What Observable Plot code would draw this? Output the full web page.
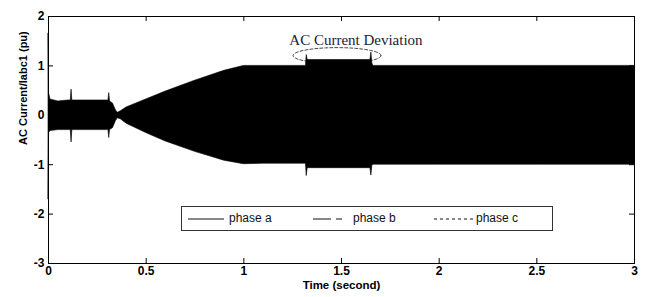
<!DOCTYPE html>
<html><head><meta charset="utf-8">
<script src="https://cdn.jsdelivr.net/npm/d3@7"></script>
<script src="https://cdn.jsdelivr.net/npm/@observablehq/plot@0.6"></script>
<style>
body{margin:0;background:#fff;}
#wrap{position:relative;width:645px;height:297px;overflow:hidden;}
#legend{position:absolute;left:181px;top:206px;width:372px;height:25px;border:1px solid #333;background:#fff;box-sizing:border-box;font-family:"Liberation Sans",Arial,sans-serif;font-size:12px;color:#111;}
#legend span{position:absolute;top:4px;line-height:15px;}
#legend svg{position:absolute;left:0;top:0;}
</style></head><body><div id="wrap"></div>
<script>
// Envelope of the three-phase current waveform (pu)
const time  = [0, 0.003, 0.01, 0.05, 0.1, 0.114, 0.118, 0.122, 0.2, 0.3, 0.307, 0.311, 0.315, 0.33, 0.345, 0.355, 0.37, 0.4, 0.5, 0.6, 0.75, 0.9, 1.0, 1.1, 1.2, 1.3, 1.318, 1.322, 1.327, 1.5, 1.648, 1.653, 1.658, 1.663, 2.0, 2.5, 3.0];
const upper = [1.65, 0.45, 0.32, 0.28, 0.3, 0.3, 0.52, 0.3, 0.3, 0.3, 0.3, 0.45, 0.28, 0.24, 0.1, 0.05, 0.08, 0.16, 0.32, 0.48, 0.7, 0.9, 1.0, 1.0, 1.0, 1.0, 1.0, 1.22, 1.12, 1.12, 1.12, 1.27, 1.05, 1.0, 1.0, 1.0, 1.0];
const lower = [-1.7, -0.36, -0.32, -0.3, -0.3, -0.3, -0.55, -0.3, -0.3, -0.3, -0.3, -0.46, -0.3, -0.26, -0.12, -0.06, -0.08, -0.17, -0.36, -0.53, -0.74, -0.92, -0.99, -0.98, -0.98, -0.98, -0.98, -1.23, -1.07, -1.07, -1.07, -1.22, -1.02, -1.0, -1.0, -1.0, -1.0];
const xTicks = [0, 0.5, 1, 1.5, 2, 2.5, 3];
const yTicks = [-3, -2, -1, 0, 1, 2];
const phaseNames = ["phase a", "phase b", "phase c"];
const xLabel = "Time (second)";
const yLabel = "AC Current/Iabc1 (pu)";
const yLabelAt = -0.6;
const noteText = "AC Current Deviation";
const noteCenter = [1.477, 1.21];   // ellipse centre (s, pu)
const noteRadii = [0.225, 0.16];    // ellipse radii (s, pu)
const noteLabel = [1.574, 1.52];

const env = time.map((t, i) => ({t, hi: upper[i], lo: lower[i]}));
const ellipse = d3.range(0, 73).map(k => {
  const a = k / 72 * 2 * Math.PI;
  return {t: noteCenter[0] + noteRadii[0] * Math.cos(a), v: noteCenter[1] + noteRadii[1] * Math.sin(a)};
});

const W = 645, H = 297, mL = 48, mT = 16, mR = 11, mB = 34;
const fw = W - mL - mR, fh = H - mT - mB, tl = 5;
const bold = {fontWeight: "bold", fontSize: 12, fontFamily: "'Liberation Sans', Arial, sans-serif"};

const chart = Plot.plot({
  width: W, height: H,
  marginLeft: mL, marginTop: mT, marginRight: mR, marginBottom: mB,
  style: {fontFamily: "'Liberation Sans', Arial, sans-serif", fontSize: "12px", color: "#000", background: "#fff"},
  x: {domain: [0, 3]},
  y: {domain: [-3, 2]},
  marks: [
    Plot.line(ellipse, {x: "t", y: "v", stroke: "#333", strokeWidth: 0.9, strokeDasharray: "3,2"}),
    Plot.areaY(env, {x: "t", y1: "lo", y2: "hi", fill: "#000", stroke: "#000", strokeWidth: 0.6}),
    Plot.tickX(xTicks, {x: d => d, insetTop: fh - tl, stroke: "#000"}),
    Plot.tickX(xTicks, {x: d => d, insetBottom: fh - tl, stroke: "#000"}),
    Plot.tickY(yTicks, {y: d => d, insetLeft: fw - tl, stroke: "#000"}),
    Plot.tickY(yTicks, {y: d => d, insetRight: fw - tl, stroke: "#000"}),
    Plot.frame({stroke: "#000", strokeWidth: 1}),
    Plot.axisX(xTicks, {tickSize: 0, tickPadding: 3, label: null, tickFormat: d => String(d), ...bold, letterSpacing: "-0.5px"}),
    Plot.axisY(yTicks, {tickSize: 0, tickPadding: 4, label: null, tickFormat: d => String(d), ...bold}),
    Plot.text([xLabel], {frameAnchor: "bottom", dy: 25, ...bold, fontSize: 11.5, letterSpacing: "-0.5px"}),
    Plot.text([yLabel], {frameAnchor: "left", y: () => yLabelAt, dx: -25, rotate: -90, ...bold, fontSize: 11}),
    Plot.text([noteText], {x: () => noteLabel[0], y: () => noteLabel[1], fontFamily: "'Liberation Serif', 'Times New Roman', serif", fontSize: 15, fill: "#1b2036"})
  ]
});

const wrap = document.getElementById("wrap");
wrap.appendChild(chart);

// legend box inside the axes
const leg = document.createElement("div");
leg.id = "legend";
leg.innerHTML = `<svg width="372" height="25">
  <line x1="6" x2="42" y1="12" y2="12" stroke="#111" stroke-width="1"/>
  <line x1="131" x2="149" y1="12" y2="12" stroke="#111" stroke-width="1"/>
  <line x1="154" x2="160" y1="12" y2="12" stroke="#111" stroke-width="1"/>
  <line x1="252" x2="292" y1="12" y2="12" stroke="#111" stroke-width="1" stroke-dasharray="3,3"/>
</svg>
<span style="left:47px">${phaseNames[0]}</span>
<span style="left:171px">${phaseNames[1]}</span>
<span style="left:294px">${phaseNames[2]}</span>`;
wrap.appendChild(leg);
</script>
</body></html>
